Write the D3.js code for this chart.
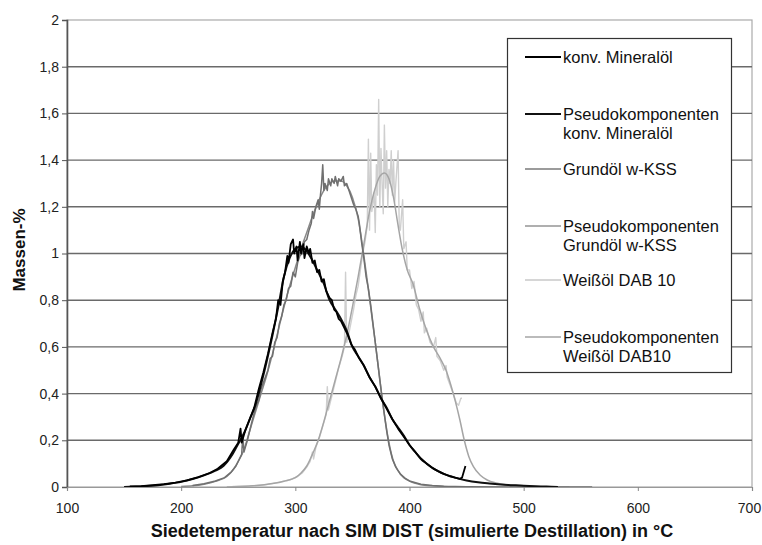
<!DOCTYPE html>
<html>
<head>
<meta charset="utf-8">
<script src="https://cdn.jsdelivr.net/npm/d3@7"></script>
<style>
  body { margin: 0; background: #fff; }
  text { font-family: 'Liberation Sans', Arial, sans-serif; }
</style>
</head>
<body>
<svg id="chart" width="762" height="545"></svg>
<script>
// Massen-% over Siedetemperatur (SIM DIST)

var xTicks = [100, 200, 300, 400, 500, 600, 700]
var yTicks = [0, 0.2, 0.4, 0.6, 0.8, 1, 1.2, 1.4, 1.6, 1.8, 2]
var yTickLabels = ['0', '0,2', '0,4', '0,6', '0,8', '1', '1,2', '1,4', '1,6', '1,8', '2']

var seriesNames = [
	['konv. Mineralöl'],
	['Pseudokomponenten', 'konv. Mineralöl'],
	['Grundöl w-KSS'],
	['Pseudokomponenten', 'Grundöl w-KSS'],
	['Weißöl DAB 10'],
	['Pseudokomponenten', 'Weißöl DAB10']
]

// [temperature °C, Massen-%]
var mineral = [
	[155, 0.003], [165, 0.004], [175, 0.008], [185, 0.012], [195, 0.019], [205, 0.028],
	[215, 0.042], [225, 0.06], [232, 0.078], [240, 0.11], [246, 0.16], [250, 0.19],
	[252, 0.25], [253, 0.19], [256, 0.24], [260, 0.29], [264, 0.34], [268, 0.42],
	[272, 0.49], [276, 0.57], [280, 0.66], [283, 0.72], [285, 0.80], [287, 0.78],
	[289, 0.88], [291, 0.92], [293, 0.99], [294, 0.96], [296, 1.04], [298, 1.06],
	[299, 1.0], [301, 1.03], [302, 0.97], [304, 1.05], [305, 1.0], [307, 1.04],
	[308, 0.98], [310, 1.03], [312, 1.0], [313, 1.02], [315, 0.96], [317, 0.97],
	[319, 0.92], [321, 0.93], [323, 0.88], [325, 0.89], [327, 0.84], [330, 0.81],
	[332, 0.80], [334, 0.76], [336, 0.75], [338, 0.72], [340, 0.71], [343, 0.68],
	[346, 0.65], [349, 0.61], [352, 0.59], [356, 0.55], [360, 0.52], [365, 0.47],
	[370, 0.43], [375, 0.38], [380, 0.335], [385, 0.29], [390, 0.25], [395, 0.215],
	[400, 0.18], [405, 0.15], [410, 0.122], [415, 0.10], [420, 0.082], [425, 0.068],
	[430, 0.056], [435, 0.047], [440, 0.04], [444, 0.035], [446, 0.04], [449, 0.09]
]

var mineralPseudo = [
	[150, 0], [160, 0.002], [170, 0.004], [180, 0.008], [190, 0.014], [200, 0.022],
	[210, 0.034], [220, 0.05], [230, 0.07], [237, 0.09], [245, 0.14], [250, 0.185],
	[255, 0.23], [260, 0.29], [265, 0.35], [270, 0.44], [275, 0.54], [280, 0.65],
	[285, 0.77], [290, 0.90], [295, 0.98], [300, 1.02], [305, 1.03], [310, 1.01],
	[315, 0.97], [320, 0.92], [325, 0.87], [330, 0.80], [335, 0.76], [340, 0.72],
	[345, 0.67], [350, 0.60], [355, 0.56], [360, 0.52], [365, 0.47], [370, 0.43],
	[375, 0.38], [380, 0.34], [385, 0.29], [390, 0.255], [395, 0.22], [400, 0.18],
	[405, 0.15], [410, 0.12], [415, 0.10], [420, 0.082], [425, 0.068], [430, 0.056],
	[435, 0.047], [440, 0.04], [450, 0.028], [460, 0.02], [470, 0.015], [480, 0.011],
	[490, 0.008], [500, 0.005], [510, 0.003], [520, 0.002], [530, 0]
]

var grundoel = [
	[210, 0.006], [220, 0.014], [230, 0.026], [238, 0.04], [244, 0.065], [248, 0.09],
	[251, 0.12], [253, 0.14], [254, 0.22], [255, 0.15], [258, 0.2], [261, 0.26],
	[263, 0.30], [266, 0.35], [268, 0.37], [270, 0.42], [273, 0.46], [276, 0.50],
	[278, 0.55], [280, 0.56], [282, 0.62], [284, 0.64], [286, 0.70], [288, 0.73],
	[290, 0.78], [292, 0.80], [294, 0.85], [296, 0.86], [298, 0.92], [300, 0.90],
	[302, 0.96], [304, 0.99], [306, 1.0], [308, 1.05], [310, 1.06], [312, 1.10],
	[314, 1.13], [315, 1.18], [316, 1.15], [318, 1.20], [320, 1.23], [321, 1.19],
	[322, 1.25], [323, 1.30], [324, 1.38], [325, 1.27], [326, 1.30], [328, 1.27],
	[329, 1.32], [331, 1.29], [332, 1.32], [334, 1.30], [335, 1.33], [337, 1.29],
	[338, 1.32], [340, 1.31], [342, 1.33], [343, 1.29], [345, 1.30], [347, 1.27],
	[349, 1.24], [351, 1.21], [353, 1.19], [355, 1.16], [356, 1.13], [358, 1.05],
	[360, 0.98], [362, 0.90], [364, 0.85], [366, 0.78], [368, 0.70], [370, 0.62],
	[372, 0.54], [374, 0.46], [376, 0.38], [378, 0.31], [380, 0.24], [382, 0.18],
	[385, 0.12], [388, 0.085], [392, 0.055], [396, 0.038], [400, 0.026], [410, 0.012],
	[420, 0.006], [430, 0.003], [450, 0.001], [500, 0], [560, 0]
]

var grundoelPseudo = [
	[200, 0.002], [210, 0.005], [220, 0.012], [230, 0.024], [240, 0.045], [245, 0.07],
	[250, 0.11], [255, 0.16], [260, 0.24], [265, 0.32], [270, 0.40], [275, 0.48],
	[280, 0.57], [285, 0.67], [290, 0.77], [295, 0.86], [300, 0.94], [305, 1.02],
	[310, 1.09], [315, 1.16], [320, 1.22], [325, 1.27], [330, 1.30], [335, 1.31],
	[340, 1.31], [345, 1.29], [350, 1.24], [355, 1.15], [358, 1.06], [362, 0.92],
	[366, 0.77], [370, 0.62], [374, 0.46], [378, 0.31], [382, 0.19], [386, 0.11],
	[390, 0.07], [395, 0.04], [400, 0.025], [410, 0.01], [420, 0.005], [430, 0.002],
	[440, 0]
]

var weissoel = [
	[245, 0.002], [260, 0.004], [275, 0.01], [285, 0.02], [295, 0.03], [302, 0.045],
	[306, 0.06], [310, 0.085], [313, 0.11], [315, 0.15], [316, 0.12], [318, 0.17],
	[321, 0.21], [324, 0.26], [327, 0.31], [328, 0.43], [329, 0.33], [332, 0.39],
	[335, 0.45], [338, 0.51], [341, 0.56], [343, 0.60], [344, 0.92], [345, 0.62],
	[347, 0.66], [349, 0.71], [351, 0.76], [353, 0.82], [355, 0.86], [357, 0.93],
	[359, 1.0], [361, 1.05], [363, 1.12], [364, 1.49], [365, 1.10], [366, 1.43],
	[367, 1.18], [369, 1.26], [370, 1.09], [371, 1.38], [372, 1.25], [373, 1.66],
	[374, 1.20], [375, 1.45], [376, 1.30], [377, 1.17], [378, 1.55], [379, 1.28],
	[380, 1.44], [381, 1.20], [382, 1.36], [383, 1.30], [384, 1.44], [385, 1.25],
	[386, 1.40], [387, 1.22], [388, 1.30], [390, 1.44], [391, 1.12], [392, 1.10],
	[394, 1.23], [395, 1.02], [397, 1.05], [398, 0.93], [400, 0.93], [402, 0.85],
	[404, 0.88], [406, 0.78], [408, 0.76], [410, 0.71], [412, 0.75], [413, 0.66],
	[415, 0.68], [418, 0.62], [421, 0.60], [423, 0.64], [424, 0.56], [427, 0.54],
	[430, 0.50], [432, 0.52], [433, 0.47], [436, 0.43], [439, 0.39], [441, 0.36],
	[443, 0.35], [445, 0.38], [446, 0.38]
]

var weissoelPseudo = [
	[240, 0], [260, 0.004], [280, 0.015], [290, 0.025], [300, 0.04], [305, 0.06],
	[310, 0.09], [315, 0.14], [320, 0.2], [325, 0.28], [330, 0.37], [335, 0.46],
	[340, 0.55], [345, 0.65], [350, 0.77], [355, 0.9], [360, 1.04], [365, 1.18],
	[370, 1.28], [374, 1.33], [378, 1.345], [382, 1.32], [386, 1.24], [390, 1.12],
	[394, 1.01], [398, 0.93], [403, 0.87], [409, 0.76], [415, 0.67], [421, 0.60],
	[427, 0.55], [432, 0.50], [436, 0.44], [440, 0.37], [444, 0.29], [448, 0.2],
	[452, 0.13], [456, 0.087], [462, 0.05], [468, 0.03], [476, 0.017], [485, 0.01],
	[500, 0.004], [520, 0.001], [540, 0]
]

var svg = d3.select('#chart'),
	margin = {top: 20, right: 10, bottom: 58, left: 67},
	width = +svg.attr('width') - margin.left - margin.right,
	height = +svg.attr('height') - margin.top - margin.bottom,
	g = svg.append('g').attr('transform', 'translate(' + margin.left + ',' + margin.top + ')')

var x = d3.scaleLinear().domain([100, 700]).range([0, width])
var y = d3.scaleLinear().domain([0, 2]).range([height, 0])

// plot frame and grid
g.append('rect').attr('width', width).attr('height', height)
	.attr('fill', 'none').attr('stroke', '#aaa').attr('stroke-width', 1.2)

g.selectAll('.grid').data(yTicks.filter(function(d) { return d > 0 && d < 2 }))
	.enter().append('line').attr('class', 'grid')
	.attr('x1', 0).attr('x2', width)
	.attr('y1', function(d) { return y(d) }).attr('y2', function(d) { return y(d) })
	.attr('stroke', '#6a6a6a').attr('stroke-width', 1.4)

// series
var line = d3.line().x(function(d) { return x(d[0]) }).y(function(d) { return y(d[1]) })
var smooth = d3.line().curve(d3.curveMonotoneX)
	.x(function(d) { return x(d[0]) }).y(function(d) { return y(d[1]) })

var series = [
	{data: weissoel, gen: line, color: '#cfcfcf', w: 1.4},
	{data: weissoelPseudo, gen: smooth, color: '#a5a5a5', w: 1.5},
	{data: grundoelPseudo, gen: smooth, color: '#8a8a8a', w: 1.5},
	{data: grundoel, gen: line, color: '#707070', w: 1.5},
	{data: mineralPseudo, gen: smooth, color: '#111', w: 2},
	{data: mineral, gen: line, color: '#000', w: 1.8}
]

series.forEach(function(s) {
	g.append('path').datum(s.data).attr('d', s.gen)
		.attr('fill', 'none').attr('stroke', s.color)
		.attr('stroke-width', s.w).attr('stroke-linejoin', 'round')
})

// axes
var yAxis = g.append('g').call(d3.axisLeft(y).tickValues(yTicks).tickSize(5).tickPadding(3)
	.tickFormat(function(d, i) { return yTickLabels[i] }))
yAxis.select('.domain').attr('stroke', '#555').attr('stroke-width', 1.6)
yAxis.selectAll('.tick line').attr('stroke', '#555')
yAxis.selectAll('text').attr('font-size', 14).attr('fill', '#222')
	.attr('font-family', "'Liberation Sans', Arial, sans-serif")

var xAxis = g.append('g').attr('transform', 'translate(0,' + height + ')')
	.call(d3.axisBottom(x).tickValues(xTicks).tickSize(4).tickPadding(12)
		.tickFormat(d3.format('d')))
xAxis.select('.domain').attr('stroke', '#999').attr('stroke-width', 1.2)
xAxis.selectAll('.tick line').attr('stroke', '#888')
xAxis.selectAll('text').attr('font-size', 14).attr('fill', '#222')
	.attr('font-family', "'Liberation Sans', Arial, sans-serif")
	.attr('dx', function(d) { return d === 700 ? -3 : 0 })

// axis titles
svg.append('text').text('Massen-%')
	.attr('transform', 'translate(25,250) rotate(-90)')
	.attr('text-anchor', 'middle').attr('font-size', 17).attr('font-weight', 'bold').attr('fill', '#111')

svg.append('text').text('Siedetemperatur nach SIM DIST (simulierte Destillation) in °C')
	.attr('x', 412).attr('y', 537)
	.attr('text-anchor', 'middle').attr('font-size', 18).attr('font-weight', 'bold').attr('fill', '#111')

// legend
var legendY = [57, 114, 169, 226, 280, 337]
var legendColors = ['#000', '#111', '#7a7a7a', '#959595', '#c8c8c8', '#a5a5a5']
var legend = svg.append('g')
legend.append('rect').attr('x', 507.5).attr('y', 38.5).attr('width', 224).attr('height', 334)
	.attr('fill', '#fff').attr('stroke', '#333').attr('stroke-width', 1.2)

seriesNames.forEach(function(lines, i) {
	legend.append('line').attr('x1', 525).attr('x2', 561)
		.attr('y1', legendY[i]).attr('y2', legendY[i])
		.attr('stroke', legendColors[i]).attr('stroke-width', i < 2 ? 2 : 1.5)
	lines.forEach(function(t, j) {
		legend.append('text').text(t)
			.attr('x', 563).attr('y', legendY[i] + 6 + j * 18.5)
			.attr('font-size', 16.5).attr('fill', '#111')
	})
})
</script>
</body>
</html>
